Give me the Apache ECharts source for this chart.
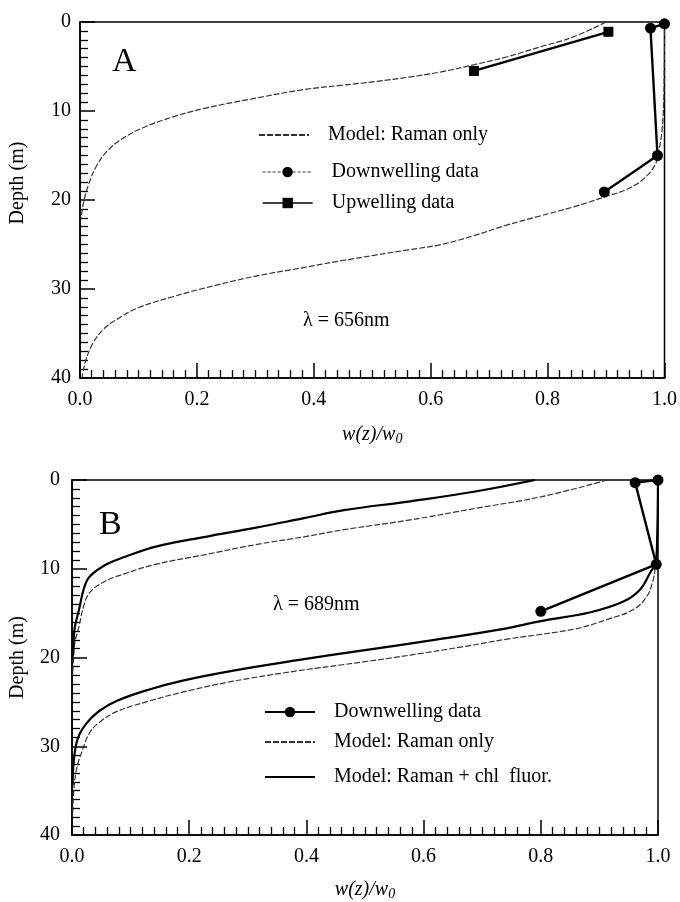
<!DOCTYPE html>
<html>
<head>
<meta charset="utf-8">
<script src="https://cdn.jsdelivr.net/npm/echarts@6/dist/echarts.min.js"></script>
<style>
  html, body { margin: 0; background: #fff; }
  #chart { width: 680px; height: 902px; }
</style>
</head>
<body>
<div id="chart"></div>
<script>
// panel A, lambda = 656nm  ([w(z)/w0, depth m])
const aModelUp = [[0.90, 0], [0.843, 1.7], [0.787, 2.8], [0.731, 3.9], [0.674, 4.8], [0.618, 5.6], [0.562, 6.2], [0.505, 6.7], [0.449, 7.1], [0.382, 7.6], [0.297, 8.6], [0.213, 9.7], [0.157, 10.7], [0.111, 11.8], [0.075, 13.0], [0.048, 14.4], [0.028, 16.2], [0.015, 18.2], [0.006, 20.3], [0.002, 22]]
const aModelDown = [[1.0, 0], [0.999, 8], [0.996, 12], [0.99, 14.6], [0.985, 15.9], [0.968, 17.4], [0.939, 18.7], [0.9, 19.6], [0.843, 20.8], [0.787, 21.8], [0.731, 22.8], [0.674, 24.0], [0.618, 25.0], [0.562, 25.6], [0.505, 26.2], [0.449, 26.8], [0.382, 27.6], [0.297, 28.6], [0.213, 29.9], [0.157, 30.9], [0.1, 32.1], [0.061, 33.5], [0.039, 34.6], [0.022, 36.1], [0.01, 38], [0.005, 39.4], [0.003, 40]]
const aDownData = [[1.0, 0.2], [0.976, 0.7], [0.988, 15], [0.897, 19.1]]
const aUpData = [[0.904, 1.1], [0.674, 5.5]]

// panel B, lambda = 689nm
const bRamanUp = [[0.914, 0], [0.8, 1.9], [0.688, 3.2], [0.577, 4.5], [0.464, 5.6], [0.396, 6.4], [0.312, 7.3], [0.228, 8.4], [0.143, 9.5], [0.088, 10.6], [0.054, 11.5], [0.03, 12.7], [0.02, 14.2], [0.012, 16.5], [0.005, 18.3], [0.003, 19.8], [0.001, 22]]
const bChlUp = [[0.79, 0], [0.688, 1.3], [0.577, 2.4], [0.464, 3.4], [0.396, 4.3], [0.312, 5.4], [0.228, 6.4], [0.143, 7.5], [0.093, 8.6], [0.059, 9.5], [0.03, 10.9], [0.02, 12.3], [0.012, 14.6], [0.005, 16.5], [0.003, 17.9], [0.001, 20]]
const bRamanDown = [[1.0, 0], [0.998, 8], [0.995, 10], [0.992, 11.2], [0.981, 13.1], [0.958, 14.6], [0.914, 15.7], [0.857, 16.8], [0.745, 17.9], [0.666, 18.8], [0.58, 19.7], [0.497, 20.5], [0.385, 21.5], [0.273, 22.7], [0.189, 23.9], [0.132, 24.9], [0.076, 26.1], [0.047, 27.3], [0.03, 28.5], [0.017, 30.6], [0.008, 32.5], [0.003, 35], [0.001, 38]]
const bChlDown = [[1.0, 0], [0.998, 8], [0.995, 9.5], [0.987, 10.4], [0.97, 12.3], [0.941, 13.7], [0.885, 14.9], [0.8, 15.9], [0.734, 16.8], [0.61, 18.1], [0.497, 19.2], [0.385, 20.3], [0.273, 21.5], [0.189, 22.6], [0.132, 23.6], [0.076, 24.9], [0.047, 26], [0.025, 27.4], [0.01, 29.1], [0.003, 31.7], [0.001, 34.4]]
const bDownData = [[1.0, 0], [0.961, 0.3], [0.997, 9.5], [0.80, 14.8]]

const SERIF = '"Liberation Serif", "DejaVu Serif", serif'
const INK = '#000'

function modelLine(name, data, idx) {
  return {
    name: name, type: 'line', data: data, xAxisIndex: idx, yAxisIndex: idx,
    smooth: 0.4, showSymbol: false, symbol: 'none', z: 2,
    lineStyle: { color: '#333', width: 1.2, type: [6, 2] },
    itemStyle: { color: '#333' }
  }
}

function chlLine(name, data, idx) {
  return {
    name: name, type: 'line', data: data, xAxisIndex: idx, yAxisIndex: idx,
    smooth: 0.4, showSymbol: false, symbol: 'none', z: 2,
    lineStyle: { color: INK, width: 2.2 },
    itemStyle: { color: INK }
  }
}

function dataLine(name, data, idx, symbol) {
  return {
    name: name, type: 'line', data: data, xAxisIndex: idx, yAxisIndex: idx,
    symbol: symbol, symbolSize: symbol === 'rect' ? 10 : 11, z: 4,
    lineStyle: { color: INK, width: 2.4 },
    itemStyle: { color: INK }
  }
}

function xAxisFor(idx, gap) {
  return {
    type: 'value', gridIndex: idx, min: 0, max: 1, interval: 0.2, position: 'bottom',
    name: '{a|w(z)/w}{b|0}', nameLocation: 'middle', nameGap: gap,
    nameTextStyle: {
      rich: {
        a: { fontFamily: SERIF, fontStyle: 'italic', fontSize: 20, color: INK },
        b: { fontFamily: SERIF, fontStyle: 'italic', fontSize: 14, color: INK, padding: [9, 0, 0, 0] }
      }
    },
    axisLine: { onZero: false, lineStyle: { color: INK, width: 1.5 } },
    axisTick: { inside: true, length: 15, lineStyle: { color: INK, width: 1.5 } },
    minorTick: { show: true, splitNumber: 10, length: 8, lineStyle: { color: INK, width: 1.3 } },
    splitLine: { show: false },
    axisLabel: { margin: 12, fontFamily: SERIF, fontSize: 20, color: INK, formatter: v => v.toFixed(1) }
  }
}

function yAxisFor(idx, gap, margin, pad) {
  return {
    type: 'value', gridIndex: idx, min: 0, max: 40, interval: 10, inverse: true, position: 'left',
    name: 'Depth (m)', nameLocation: 'middle', nameGap: gap, nameRotate: 90,
    nameTextStyle: { fontFamily: SERIF, fontSize: 20, color: INK, padding: pad },
    axisLine: { onZero: false, lineStyle: { color: INK, width: 1.5 } },
    axisTick: { inside: true, length: 15, lineStyle: { color: INK, width: 1.5 } },
    minorTick: { show: true, splitNumber: 10, length: 8, lineStyle: { color: INK, width: 1.3 } },
    splitLine: { show: false },
    axisLabel: { margin: margin, fontFamily: SERIF, fontSize: 20, color: INK }
  }
}

// one legend per row so rows can sit at the uneven spacing of the original
function legendItem(name, left, top, extra) {
  return {
    data: [Object.assign({ name: name }, extra || {})],
    left: left, top: top, orient: 'vertical', padding: 0,
    itemWidth: 50, itemHeight: 13, selectedMode: false,
    textStyle: { fontFamily: SERIF, fontSize: 20, color: INK, lineHeight: 20, padding: [0, 0, 0, 14] }
  }
}

const lineOnly = { itemStyle: { opacity: 0 } }

function label(text, x, y, size) {
  return {
    type: 'text', x: x, y: y,
    style: { text: text, font: size + 'px ' + SERIF, fill: INK, verticalAlign: 'middle' }
  }
}

const chart = echarts.init(document.getElementById('chart'))
chart.setOption({
  backgroundColor: '#fff',
  animation: false,
  grid: [
    { left: 74, right: 14, top: 22, height: 356, show: true, borderColor: INK, borderWidth: 1.5 },
    { left: 65, right: 22, top: 480, height: 358, show: true, borderColor: INK, borderWidth: 1.5 }
  ],
  xAxis: [xAxisFor(0, 45), xAxisFor(1, 43)],
  yAxis: [yAxisFor(0, 52, 9, [0, 0, 0, 34]), yAxisFor(1, 44, 12, [0, 0, 0, 0])],
  legend: [
    legendItem('Model: Raman only', 258, 125, lineOnly),
    legendItem('Downwelling data', 262, 162, { lineStyle: { width: 1.2, type: [3, 2], color: '#333' } }),
    legendItem('Upwelling data', 262, 193, { lineStyle: { width: 1.4 } }),
    legendItem('Downwelling data', 264, 702),
    legendItem('Model: Raman only', 264, 732, lineOnly),
    legendItem('Model: Raman + chl  fluor.', 264, 767, lineOnly)
  ],
  graphic: [
    label('A', 112, 62, 34),
    label('B', 99, 525, 34),
    label('\u03bb = 656nm', 303, 321, 20),
    label('\u03bb = 689nm', 273, 605, 20)
  ],
  series: [
    modelLine('Model: Raman only', aModelUp, 0),
    modelLine('Model: Raman only', aModelDown, 0),
    dataLine('Downwelling data', aDownData, 0, 'circle'),
    dataLine('Upwelling data', aUpData, 0, 'rect'),
    modelLine('Model: Raman only', bRamanUp, 1),
    modelLine('Model: Raman only', bRamanDown, 1),
    chlLine('Model: Raman + chl  fluor.', bChlUp, 1),
    chlLine('Model: Raman + chl  fluor.', bChlDown, 1),
    dataLine('Downwelling data', bDownData, 1, 'circle')
  ]
})
</script>
</body>
</html>
